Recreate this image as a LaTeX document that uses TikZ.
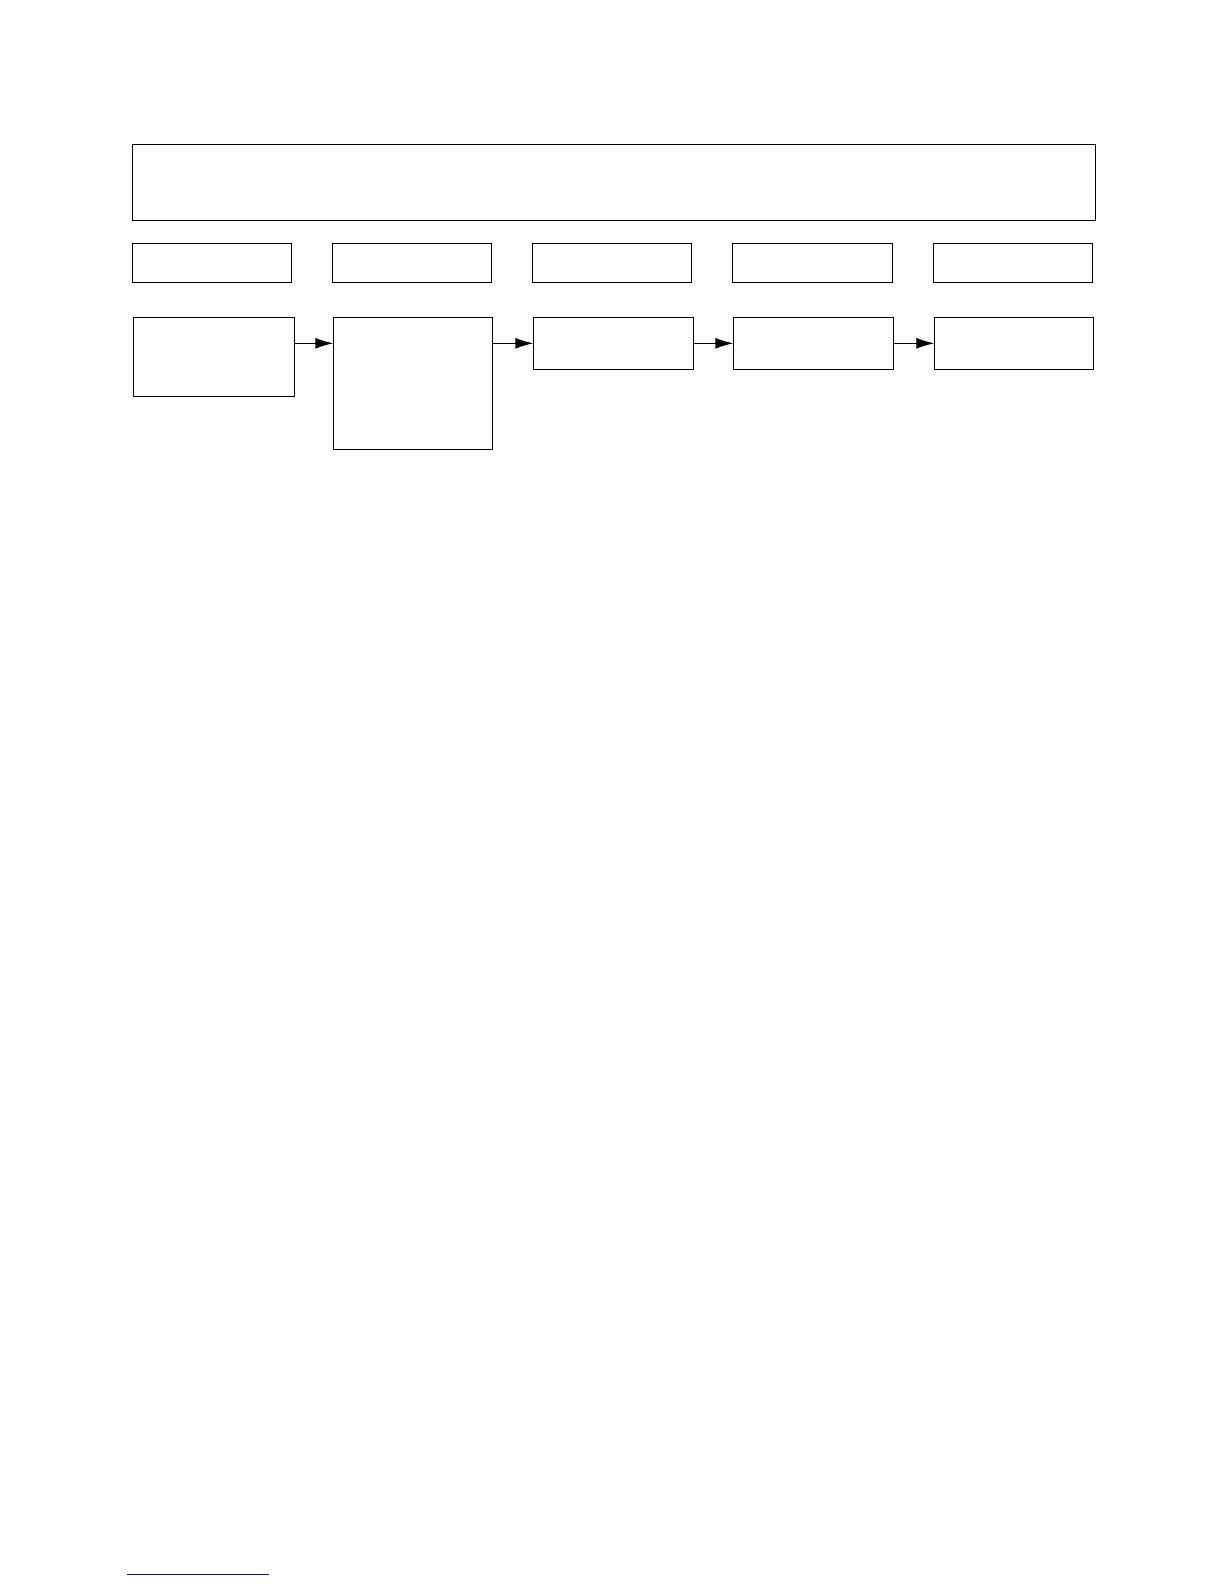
\documentclass[tikz,border=0pt]{standalone}
\usetikzlibrary{arrows.meta}
\begin{document}
\begin{tikzpicture}[x=1pt,y=-1pt,
  box/.style={draw=black,line width=1.1pt,anchor=north west,inner sep=0pt,outer sep=0pt,fill=none},
  arr/.style={line width=1.1pt,-{Latex[length=18pt,width=11pt]}}]
\useasboundingbox[fill=white] (0,0) rectangle (1224,1584);
% top wide box
\node[box,minimum width=963pt,minimum height=76pt] (top) at (132.3,144.3) {};
% second row
\node[box,minimum width=159.4pt,minimum height=39pt] (h1) at (132.3,243.3) {};
\node[box,minimum width=159.4pt,minimum height=39pt] (h2) at (332.3,243.3) {};
\node[box,minimum width=159.4pt,minimum height=39pt] (h3) at (532.3,243.3) {};
\node[box,minimum width=160.4pt,minimum height=39pt] (h4) at (732.3,243.3) {};
\node[box,minimum width=159.2pt,minimum height=39pt] (h5) at (933.3,243.3) {};
% third row
\node[box,minimum width=161pt,minimum height=79pt] (b1) at (133.3,317.3) {};
\node[box,minimum width=159pt,minimum height=132pt] (b2) at (333.3,317.3) {};
\node[box,minimum width=160pt,minimum height=52pt] (b3) at (533.3,317.3) {};
\node[box,minimum width=160pt,minimum height=52pt] (b4) at (733.3,317.3) {};
\node[box,minimum width=159pt,minimum height=52pt] (b5) at (934.3,317.3) {};
% arrows
\draw[arr] (b1.east |- b3.west) -- (b2.west |- b3.west);
\draw[arr] (b2.east |- b3.west) -- (b3.west);
\draw[arr] (b3.east) -- (b4.west);
\draw[arr] (b4.east) -- (b5.west);
% footnote rule
\draw[line width=1pt,draw={rgb,255:red,20;green,20;blue,150}] (126.7,1574.7) -- (269,1574.7);
\end{tikzpicture}
\end{document}
